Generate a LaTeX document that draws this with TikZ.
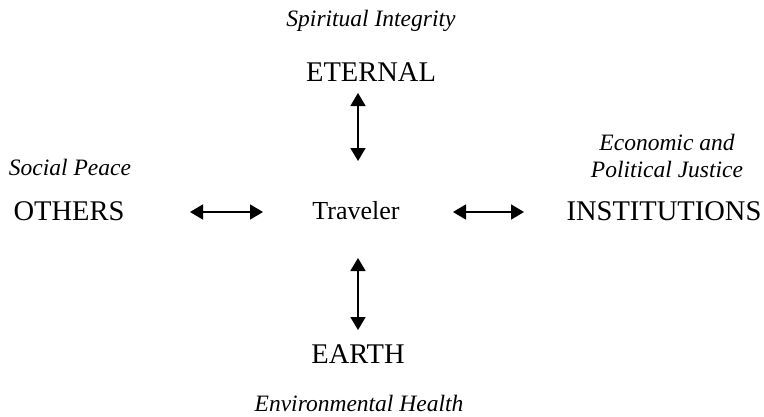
\documentclass[tikz,border=0pt]{standalone}
\usepackage{fontspec}
\setmainfont{Liberation Serif}
\usetikzlibrary{arrows.meta}
\tikzset{
  main/.style={font=\fontsize{28.5}{30}\selectfont, inner sep=0pt, anchor=center},
  trav/.style={font=\fontsize{26}{28}\selectfont, inner sep=0pt, anchor=center},
  sub/.style={font=\fontsize{23.5}{27}\selectfont\itshape, inner sep=0pt, anchor=center, align=center},
  dbl/.style={line width=1.7pt, {Triangle[length=13pt,width=15pt]}-{Triangle[length=13pt,width=15pt]}}
}
\begin{document}
\begin{tikzpicture}[x=1pt,y=-1pt]
\useasboundingbox (0,0) rectangle (764,416);
\node[sub] (si) at (371,21) {Spiritual Integrity};
\node[main] (eternal) at (371,72) {ETERNAL};
\node[sub] (sp) at (70,167) {Social Peace};
\node[main] (others) at (69,211) {OTHERS};
\node[trav] (trav) at (356,211) {Traveler};
\node[main] (inst) at (664,211) {INSTITUTIONS};
\node[sub] (epj) at (667,156) {Economic and\\Political Justice};
\node[main] (earth) at (358,354) {EARTH};
\node[sub] (eh) at (359,403) {Environmental Health};
\coordinate (t1) at (358,93);
\coordinate (t2) at (358,161);
\coordinate (b1) at (358,258);
\coordinate (b2) at (358,330);
\coordinate (l1) at (190,212);
\coordinate (l2) at (263,212);
\coordinate (r1) at (453,212);
\coordinate (r2) at (524,212);
\draw[dbl] (t1) -- (t2);
\draw[dbl] (b1) -- (b2);
\draw[dbl] (l1) -- (l2);
\draw[dbl] (r1) -- (r2);
\end{tikzpicture}
\end{document}
